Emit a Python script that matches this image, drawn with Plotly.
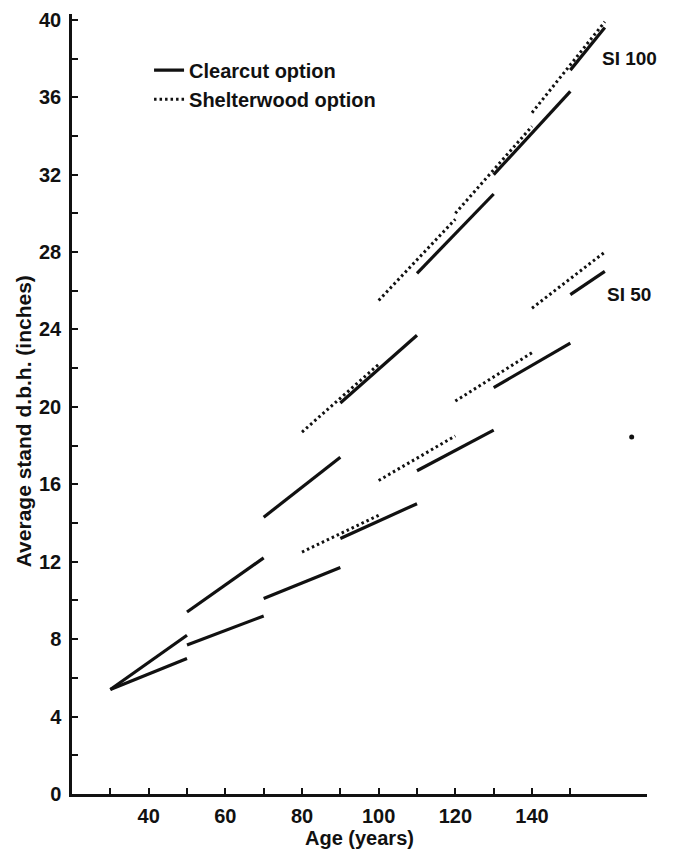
import plotly.graph_objects as go

# ---- data ----
# Clearcut option: 20-year segments (last one shorter)
cc_start_age = [30, 50, 70, 90, 110, 130, 150]
cc_end_age = [50, 70, 90, 110, 130, 150, 159]
cc_si100_start = [5.4, 9.4, 14.3, 20.2, 26.9, 32.0, 37.4]
cc_si100_end = [8.2, 12.2, 17.4, 23.7, 31.0, 36.3, 39.6]
cc_si50_start = [5.4, 7.7, 10.1, 13.2, 16.7, 21.0, 25.8]
cc_si50_end = [7.0, 9.2, 11.7, 15.0, 18.8, 23.3, 27.0]

# Shelterwood option
sw_start_age = [80, 100, 120, 140]
sw_end_age = [100, 120, 140, 159]
sw_si100_start = [18.7, 25.5, 30.0, 35.2]
sw_si100_end = [22.2, 29.7, 34.5, 39.9]
sw_si50_start = [12.5, 16.2, 20.3, 25.1]
sw_si50_end = [14.4, 18.5, 22.8, 28.0]

# stray print dot
stray_x = [166]
stray_y = [18.45]

# axis ticks
x_major = [40, 60, 80, 100, 120, 140]
x_minor = [30, 50, 70, 90, 110, 130, 150]
y_major = [0, 4, 8, 12, 16, 20, 24, 28, 32, 36, 40]
y_minor = [2, 6, 10, 14, 18, 22, 26, 30, 34, 38]

site_labels = ["SI 100", "SI 50"]
site_label_x = [157.8, 159.0]
site_label_y = [38.0, 25.8]


def segments(starts_x, ends_x, starts_y, ends_y):
    xs, ys = [], []
    for a, b, c, d in zip(starts_x, ends_x, starts_y, ends_y):
        xs += [a, b, None]
        ys += [c, d, None]
    return xs, ys


FONT = "Liberation Sans, Arial, Helvetica, sans-serif"
INK = "#111111"

cx1, cy1 = segments(cc_start_age, cc_end_age, cc_si100_start, cc_si100_end)
cx2, cy2 = segments(cc_start_age, cc_end_age, cc_si50_start, cc_si50_end)
sx1, sy1 = segments(sw_start_age, sw_end_age, sw_si100_start, sw_si100_end)
sx2, sy2 = segments(sw_start_age, sw_end_age, sw_si50_start, sw_si50_end)

fig = go.Figure()
fig.add_trace(go.Scatter(x=cx1 + cx2, y=cy1 + cy2, mode="lines", name="Clearcut option",
                         line=dict(color=INK, width=3.2), connectgaps=False))
fig.add_trace(go.Scatter(x=sx1 + sx2, y=sy1 + sy2, mode="lines", name="Shelterwood option",
                         line=dict(color=INK, width=3, dash="2.5px,3px"), connectgaps=False))
fig.add_trace(go.Scatter(x=stray_x, y=stray_y, mode="markers", showlegend=False,
                         marker=dict(color=INK, size=5)))

for t, x, y in zip(site_labels, site_label_x, site_label_y):
    fig.add_annotation(x=x, y=y, text=t, showarrow=False, xanchor="left", yanchor="middle",
                       font=dict(family=FONT, size=19, color=INK, weight="bold"))

# axis titles
fig.add_annotation(xref="paper", yref="paper", x=-0.085, y=0.478, text="Average stand d.b.h. (inches)",
                   textangle=-90, showarrow=False, xanchor="center", yanchor="middle",
                   font=dict(family=FONT, size=21, color=INK, weight="bold"))
fig.add_annotation(xref="paper", yref="paper", x=0.5, y=-0.057, text="Age (years)",
                   showarrow=False, xanchor="center", yanchor="middle",
                   font=dict(family=FONT, size=20, color=INK, weight="bold"))

# the page body adds an 8px offset, so margins are reduced by 8px on left/top
fig.update_layout(
    width=680, height=852,
    margin=dict(l=64, r=41, t=6, b=66, autoexpand=False),
    paper_bgcolor="white", plot_bgcolor="white",
    font=dict(family=FONT, size=20, color=INK, weight="bold"),
    showlegend=True,
    legend=dict(x=0.134, y=0.953, xanchor="left", yanchor="top", bgcolor="rgba(0,0,0,0)",
                font=dict(family=FONT, size=20, color=INK, weight="bold"),
                tracegroupgap=0, itemwidth=30),
)
fig.update_xaxes(range=[20, 170], showgrid=False, zeroline=False, showline=True, automargin=False,
                 linecolor=INK, linewidth=2.5, ticks="inside", ticklen=6, tickwidth=2,
                 tickcolor=INK, tickvals=x_major, ticktext=[str(v) for v in x_major],
                 ticklabelstandoff=2,
                 minor=dict(tickvals=x_minor, ticks="inside", ticklen=6, tickwidth=2,
                            tickcolor=INK, showgrid=False))
fig.update_yaxes(range=[0, 40.3], showgrid=False, zeroline=False, showline=True, automargin=False,
                 linecolor=INK, linewidth=2.5, ticks="inside", ticklen=6, tickwidth=2,
                 tickcolor=INK, tickvals=y_major, ticktext=[str(v) for v in y_major],
                 ticklabelstandoff=4,
                 minor=dict(tickvals=y_minor, ticks="inside", ticklen=6, tickwidth=2,
                            tickcolor=INK, showgrid=False))

fig.write_html("out.html")
